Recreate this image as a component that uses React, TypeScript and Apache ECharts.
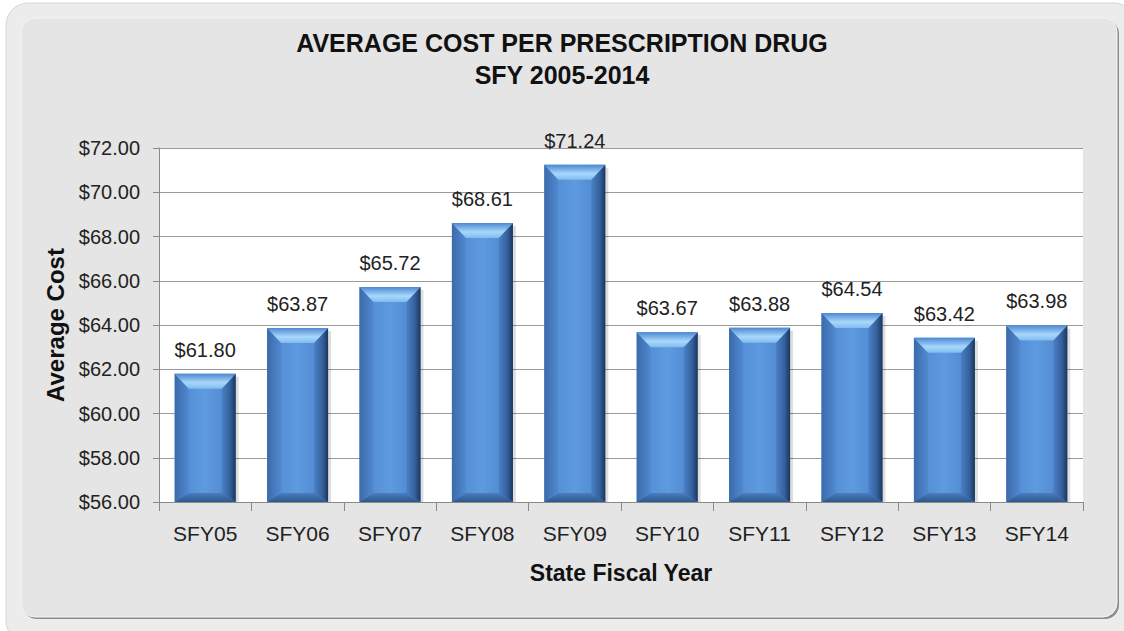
import React, { useEffect, useRef } from "react";
import * as echarts from "echarts";

const categories = ["SFY05", "SFY06", "SFY07", "SFY08", "SFY09", "SFY10", "SFY11", "SFY12", "SFY13", "SFY14"];
const avgCost = [61.8, 63.87, 65.72, 68.61, 71.24, 63.67, 63.88, 64.54, 63.42, 63.98];
const yTicks = { min: 56, max: 72, interval: 2 };
const titleLines = ["AVERAGE COST PER PRESCRIPTION DRUG", "SFY 2005-2014"];
const xAxisName = "State Fiscal Year";
const yAxisName = "Average Cost";

const FONT = "Liberation Sans, Arial, sans-serif";

const lg = (x2: number, y2: number, stops: [number, string][]) =>
  new echarts.graphic.LinearGradient(0, 0, x2, y2, stops.map(([offset, color]) => ({ offset, color })));

export default function App() {
  const ref = useRef<HTMLDivElement>(null);
  useEffect(() => {
    if (!ref.current) return;
    const chart = echarts.init(ref.current, undefined, { renderer: "svg" });
    const option: any = {
      animation: false,
      backgroundColor: "#ffffff",
      graphic: [
        { type: "rect", z: -10, shape: { x: 6, y: 3, width: 1130, height: 640, r: 22 }, style: { fill: "#ececec", stroke: "#d6d6d6", lineWidth: 1 } },
        { type: "rect", z: -9, shape: { x: 23, y: 20, width: 1096, height: 599, r: 14 }, style: { fill: "#8c8c8c" } },
        { type: "rect", z: -8, shape: { x: 21, y: 18, width: 1096, height: 599, r: 14 }, style: { fill: "#e5e5e5", stroke: "#f4f4f4", lineWidth: 1 } },
      ],
      title: {
        text: titleLines.join("\n"),
        left: "center",
        top: 22,
        textStyle: { fontFamily: FONT, fontSize: 25, fontWeight: "bold", color: "#111", lineHeight: 32 },
      },
      grid: { left: 159, right: 41, top: 148, bottom: 129, show: true, backgroundColor: "#ffffff", borderWidth: 0 },
      xAxis: {
        type: "category",
        data: categories,
        name: xAxisName,
        nameLocation: "middle",
        nameGap: 59,
        nameTextStyle: { fontFamily: FONT, fontSize: 23, fontWeight: "bold", color: "#111" },
        axisLine: { lineStyle: { color: "#8a8a8a" } },
        axisTick: { show: true, alignWithLabel: false, length: 9, lineStyle: { color: "#8a8a8a" } },
        axisLabel: { fontFamily: FONT, fontSize: 21, color: "#222", margin: 21 },
      },
      yAxis: {
        type: "value",
        min: yTicks.min,
        max: yTicks.max,
        interval: yTicks.interval,
        name: yAxisName,
        nameLocation: "middle",
        nameGap: 91,
        nameRotate: 90,
        nameTextStyle: { fontFamily: FONT, fontSize: 24, fontWeight: "bold", color: "#111" },
        axisLine: { show: true, lineStyle: { color: "#8a8a8a" } },
        axisTick: { show: true, length: 6, lineStyle: { color: "#8a8a8a" } },
        splitLine: { show: true, lineStyle: { color: "#9a9a9a", width: 1 } },
        axisLabel: {
          fontFamily: FONT,
          fontSize: 20,
          color: "#222",
          margin: 19,
          formatter: (v: number) => "$" + v.toFixed(2),
        },
      },
      series: [
        {
          type: "custom",
          data: avgCost.map((v, i) => [i, v]),
          encode: { x: 0, y: 1 },
          renderItem: (params: any, api: any) => {
            const idx = api.value(0);
            const v = api.value(1);
            const top = api.coord([idx, v]);
            const base = api.coord([idx, yTicks.min]);
            const band = api.size([1, 0])[0];
            const w = band * 0.66;
            const x0 = top[0] - w / 2;
            const x1 = top[0] + w / 2;
            const y0 = top[1];
            const y1 = base[1];
            const s = 14;
            const tb = 15;
            const bb = 9;
            return {
              type: "group",
              children: [
                {
                  type: "rect",
                  shape: { x: x0 + 3, y: y0 + 3, width: w, height: y1 - y0 - 3 },
                  style: { fill: "rgba(0,0,0,0.13)" },
                },
                {
                  type: "rect",
                  shape: { x: x0, y: y0, width: w, height: y1 - y0 },
                  style: { fill: lg(1, 0, [[0, "#4f88d0"], [0.5, "#5e9ae0"], [1, "#4b82ca"]]) },
                },
                {
                  type: "polygon",
                  shape: { points: [[x0, y0], [x0 + s, y0 + tb], [x0 + s, y1 - bb], [x0, y1]] },
                  style: { fill: lg(1, 0, [[0, "#3c6aaa"], [1, "#5089d1"]]) },
                },
                {
                  type: "polygon",
                  shape: { points: [[x1, y0], [x1 - s, y0 + tb], [x1 - s, y1 - bb], [x1, y1]] },
                  style: { fill: lg(1, 0, [[0, "#4a80c6"], [0.6, "#35609c"], [1, "#1c355c"]]) },
                },
                {
                  type: "polygon",
                  shape: { points: [[x0, y0], [x1, y0], [x1 - s, y0 + tb], [x0 + s, y0 + tb]] },
                  style: { fill: lg(0, 1, [[0, "#4d88d2"], [0.6, "#a8d8fb"], [1, "#80bbee"]]) },
                },
                {
                  type: "polygon",
                  shape: { points: [[x0 + s, y1 - bb], [x1 - s, y1 - bb], [x1, y1], [x0, y1]] },
                  style: { fill: lg(0, 1, [[0, "#4a7dbf"], [1, "#2e568e"]]) },
                },
                {
                  type: "text",
                  x: top[0],
                  y: y0 - 14,
                  style: {
                    text: "$" + v.toFixed(2),
                    align: "center",
                    verticalAlign: "bottom",
                    fontFamily: FONT,
                    fontSize: 20,
                    fill: "#222",
                  },
                },
              ],
            };
          },
        },
      ],
    };
    chart.setOption(option);
    return () => chart.dispose();
  }, []);
  return <div ref={ref} style={{ position: "absolute", left: 0, top: 0, width: 1124, height: 631 }} />;
}
